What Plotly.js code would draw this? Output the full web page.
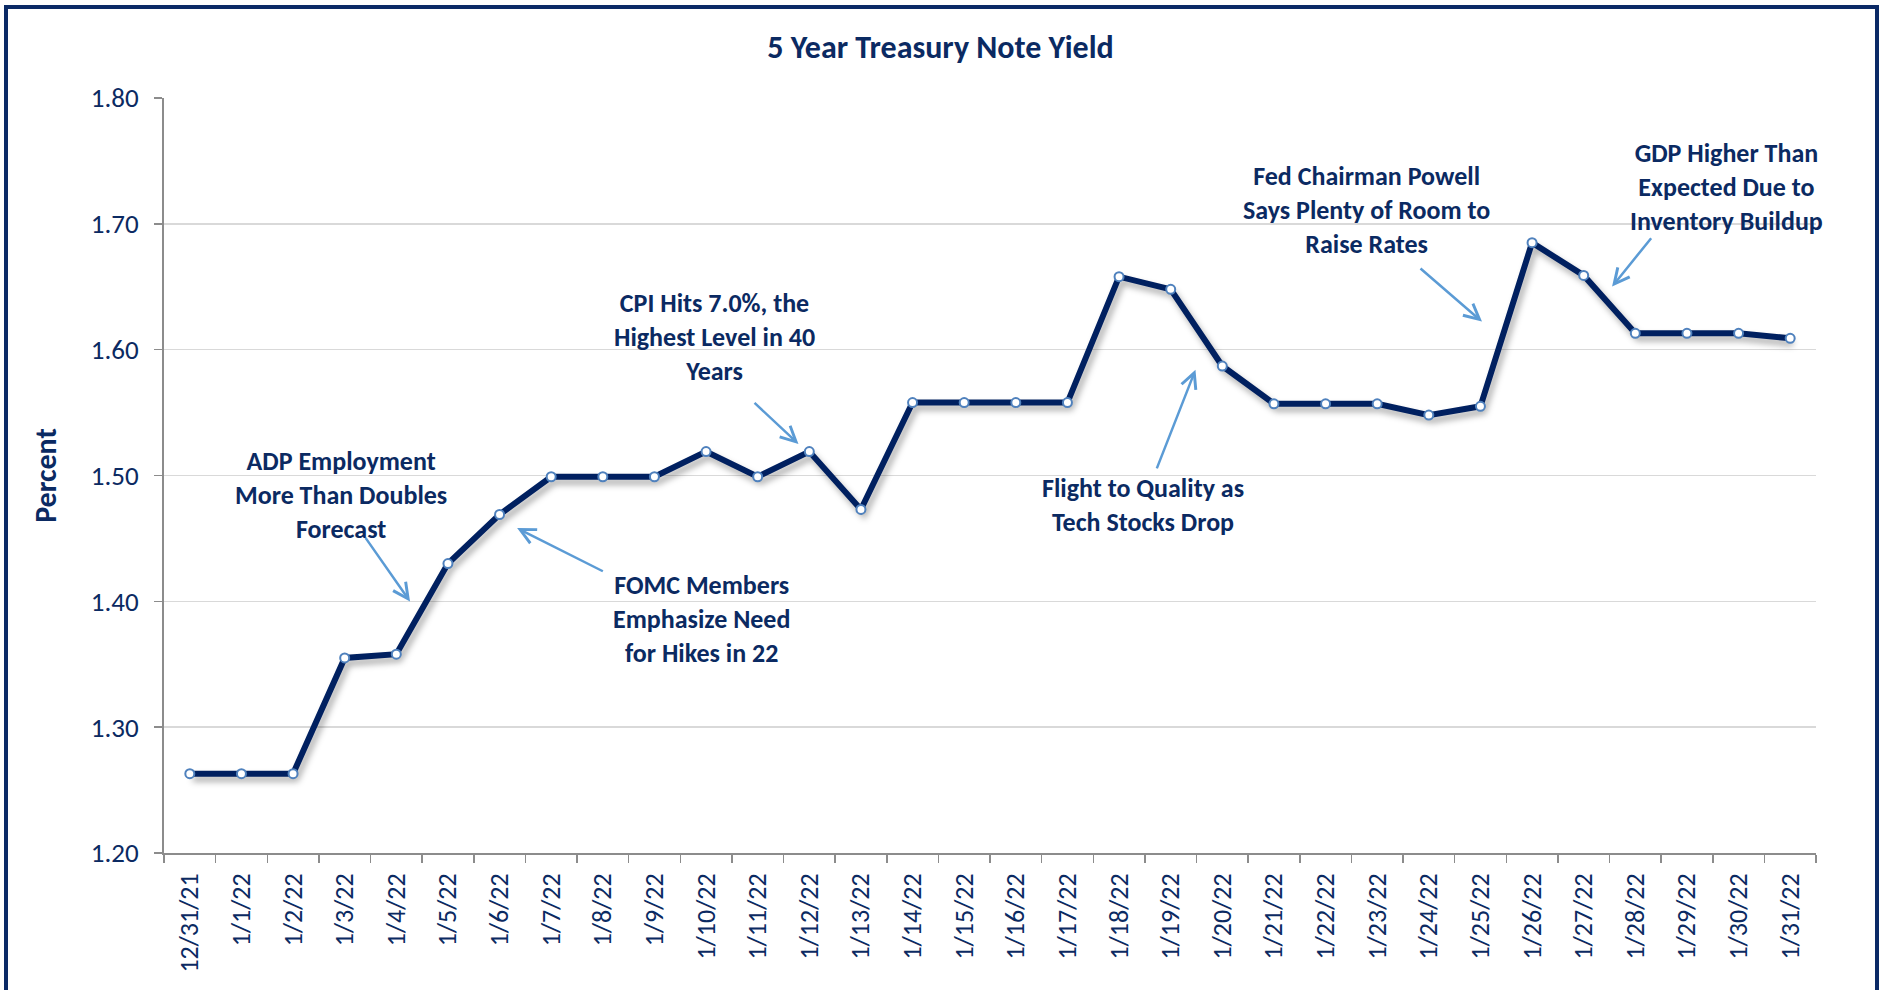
<!DOCTYPE html>
<html>
<head>
<meta charset="utf-8">
<script src="https://cdn.plot.ly/plotly-3.0.1.min.js"></script>
<style>
  html, body { margin: 0; padding: 0; background: #ffffff; }
  #wrap { position: relative; width: 1881px; height: 990px; overflow: hidden; }
  #chart { position: absolute; left: 0; top: 0; width: 1881px; height: 990px; }
  #frame { position: absolute; left: 4px; top: 5px; width: 1867px; height: 1000px;
           border: 4px solid #0b2a66; pointer-events: none; }
  #chart .scatterlayer .trace .lines path {
    filter: drop-shadow(3px 5px 3px rgba(0,0,0,0.32));
  }
</style>
</head>
<body>
<div id="wrap">
  <div id="chart"></div>
  <div id="frame"></div>
</div>
<script>
// ---- data ----
const dates = ["12/31/21","1/1/22","1/2/22","1/3/22","1/4/22","1/5/22","1/6/22","1/7/22",
  "1/8/22","1/9/22","1/10/22","1/11/22","1/12/22","1/13/22","1/14/22","1/15/22",
  "1/16/22","1/17/22","1/18/22","1/19/22","1/20/22","1/21/22","1/22/22","1/23/22",
  "1/24/22","1/25/22","1/26/22","1/27/22","1/28/22","1/29/22","1/30/22","1/31/22"];
const yields = [1.263,1.263,1.263,1.355,1.358,1.430,1.469,1.499,
  1.499,1.499,1.519,1.499,1.519,1.473,1.558,1.558,
  1.558,1.558,1.658,1.648,1.587,1.557,1.557,1.557,
  1.548,1.555,1.685,1.659,1.613,1.613,1.613,1.609];
const yTicks = [1.20,1.30,1.40,1.50,1.60,1.70,1.80];
const yTickLabels = ["1.20","1.30","1.40","1.50","1.60","1.70","1.80"];
const noteTexts = [
  "ADP Employment<br>More Than Doubles<br>Forecast",
  "FOMC Members<br>Emphasize Need<br>for Hikes in 22",
  "CPI Hits 7.0%, the<br>Highest Level in 40<br>Years",
  "Flight to Quality as<br>Tech Stocks Drop",
  "Fed Chairman Powell<br>Says Plenty of Room to<br>Raise Rates",
  "GDP Higher Than<br>Expected Due to<br>Inventory Buildup"
];

// ---- styling / placement ----
const NAVY = "#0b2a62";
const ARROW = "#5b9bd5";
const FONT = "Carlito, Lato, 'Open Sans', sans-serif";

const textPos = [
  {x: 2.92, y: 1.4847},
  {x: 9.91, y: 1.3859},
  {x: 10.16, y: 1.6099},
  {x: 18.46, y: 1.4763},
  {x: 22.79, y: 1.711},
  {x: 29.76, y: 1.7291}
];
const arrowPos = [
  {tx: 3.384, ty: 1.4516, hx: 4.266, hy: 1.3999},
  {tx: 8.03,  ty: 1.4233, hx: 6.34,  hy: 1.4582},
  {tx: 10.91, ty: 1.5588, hx: 11.79, hy: 1.5250},
  {tx: 18.72, ty: 1.5045, hx: 19.48, hy: 1.5840},
  {tx: 23.81, ty: 1.6655, hx: 25.03, hy: 1.6223},
  {tx: 28.33, ty: 1.6898, hx: 27.55, hy: 1.6501}
];

const annotations = [];
noteTexts.forEach((t, i) => {
  annotations.push({
    xref: "x", yref: "y", x: textPos[i].x, y: textPos[i].y,
    text: t, showarrow: false, xanchor: "center", yanchor: "middle",
    align: "center",
    font: {family: FONT, size: 26, color: NAVY, weight: "bold"}
  });
  const a = arrowPos[i];
  annotations.push({
    xref: "x", yref: "y", axref: "x", ayref: "y",
    x: a.hx, y: a.hy, ax: a.tx, ay: a.ty,
    text: "", showarrow: true, arrowhead: 5, arrowsize: 1.2,
    arrowwidth: 2.5, arrowcolor: ARROW, standoff: 0, startstandoff: 0
  });
});

const trace = {
  type: "scatter", mode: "lines+markers",
  x: dates, y: yields,
  line: {color: "#002060", width: 6},
  marker: {size: 9, color: "#ffffff", line: {color: "#4f81bd", width: 2}},
  hoverinfo: "x+y"
};

const layout = {
  width: 1881, height: 990,
  margin: {l: 163.5, r: 65, t: 98, b: 137, pad: 0},
  paper_bgcolor: "#ffffff", plot_bgcolor: "#ffffff",
  showlegend: false,
  title: {
    text: "<b>5 Year Treasury Note Yield</b>",
    font: {family: FONT, size: 32, color: NAVY},
    x: 0.5, xref: "container", xanchor: "center",
    y: 1 - 47/990, yref: "container", yanchor: "middle"
  },
  xaxis: {
    type: "category", range: [-0.5, 31.5],
    tickangle: -90, tickson: "boundaries",
    ticks: "outside", ticklen: 8, tickwidth: 1.5, tickcolor: "#8c8c8c",
    showline: true, linecolor: "#8c8c8c", linewidth: 2,
    showgrid: false, zeroline: false,
    tickfont: {family: FONT, size: 26, color: NAVY},
    ticklabelstandoff: 8
  },
  yaxis: {
    range: [1.2, 1.8], tickvals: yTicks, ticktext: yTickLabels,
    ticks: "outside", ticklen: 8, tickwidth: 1.5, tickcolor: "#8c8c8c",
    showline: true, linecolor: "#8c8c8c", linewidth: 2,
    showgrid: true, gridcolor: "#d9d9d9", gridwidth: 1.5, zeroline: false,
    tickfont: {family: FONT, size: 27, color: NAVY},
    ticklabelstandoff: 10,
    title: {text: "<b>Percent</b>", font: {family: FONT, size: 30, color: NAVY}, standoff: 25}
  },
  annotations: annotations
};

Plotly.newPlot("chart", [trace], layout, {displayModeBar: false, staticPlot: true});
</script>
</body>
</html>
